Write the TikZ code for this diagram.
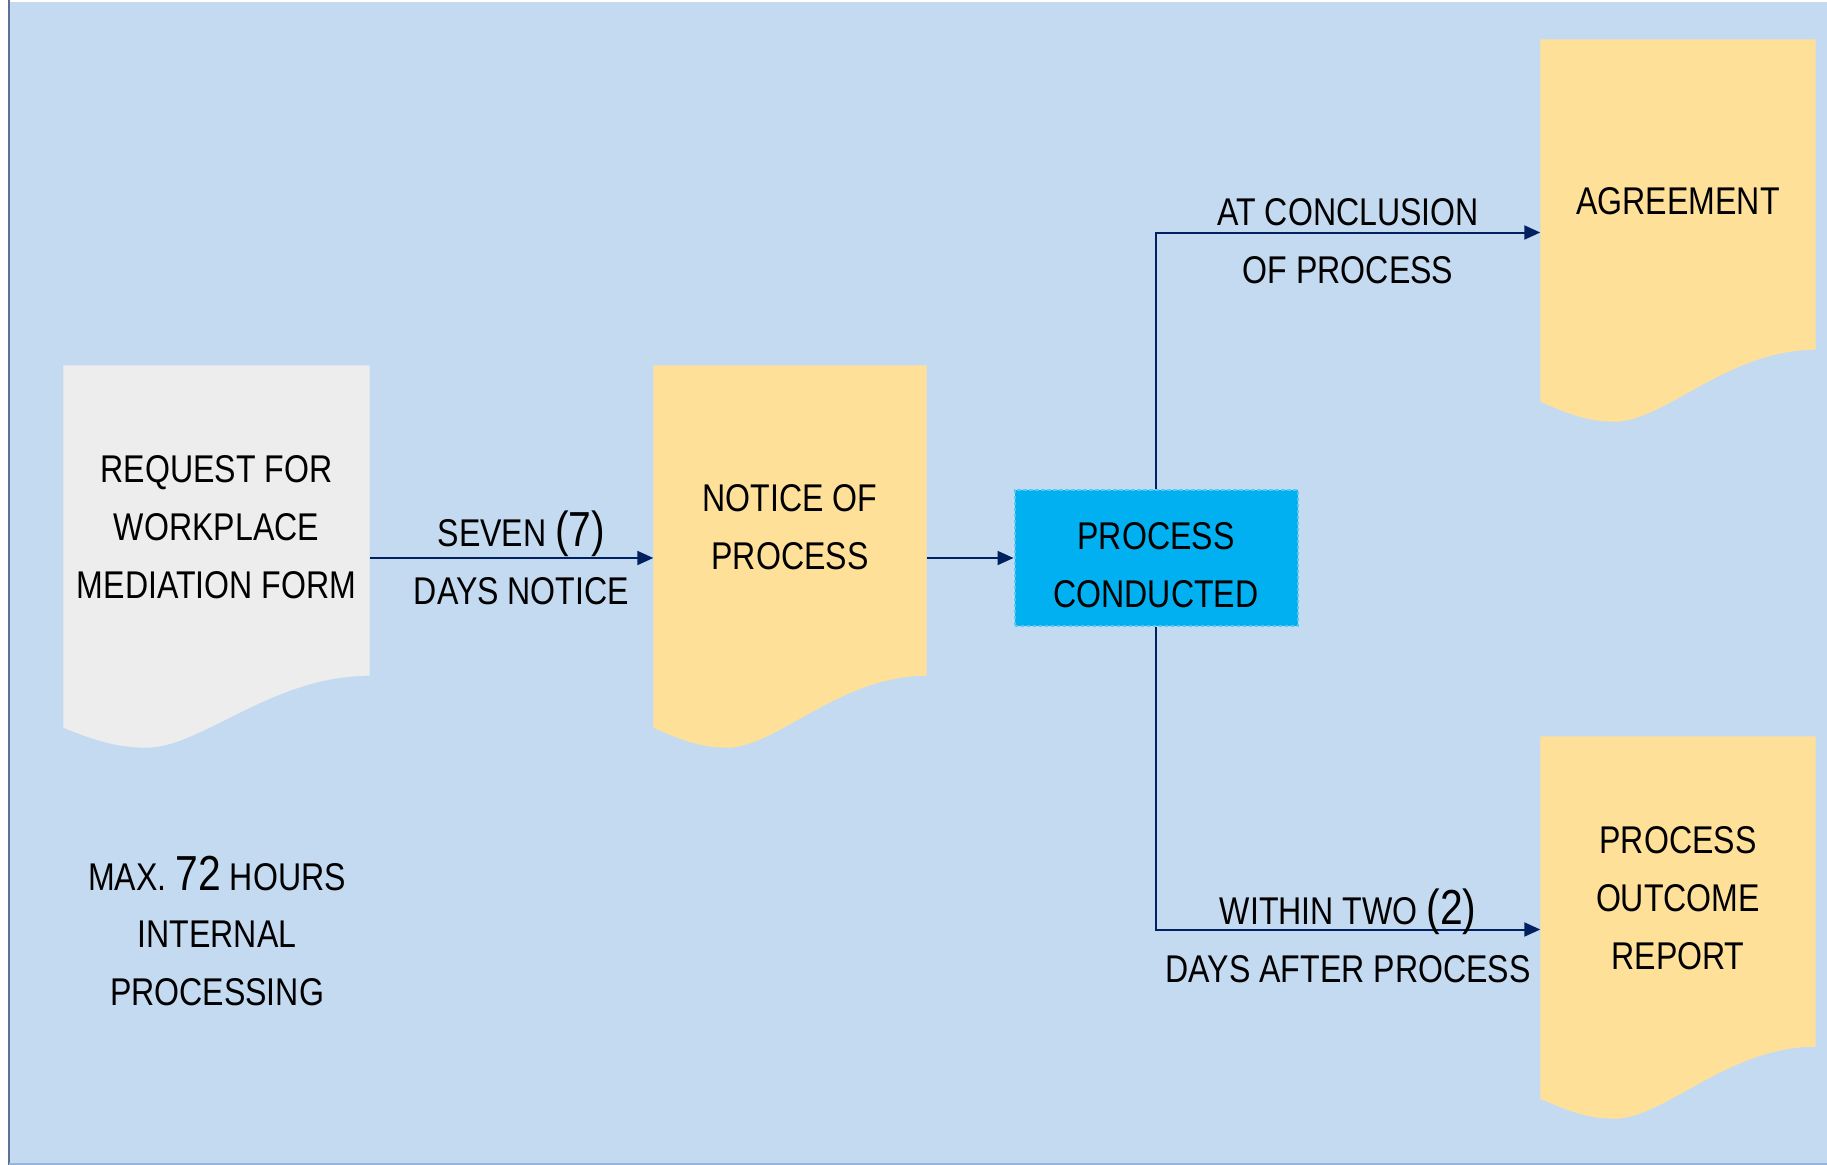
\documentclass[tikz,border=0pt]{standalone}
\usepackage{fontspec}
\setmainfont{Liberation Sans}[FakeStretch=0.83]
\usetikzlibrary{arrows.meta,calc,backgrounds}
\definecolor{pagefill}{RGB}{196,218,241}
\definecolor{paperfill}{RGB}{237,237,237}
\definecolor{notefill}{RGB}{255,224,153}
\definecolor{stepfill}{RGB}{0,176,240}
\definecolor{stepdash}{RGB}{92,198,242}
\definecolor{linenavy}{RGB}{0,32,96}
\definecolor{edgegray}{RGB}{96,110,150}
\definecolor{edgeblue}{RGB}{150,180,220}
\newcommand{\numsize}{\fontsize{14}{16.5}\selectfont}
\newcommand{\dropline}{\rule{0pt}{11.6pt}}
% document outline with the wavy bottom, drawn round a node
\newcommand{\docshape}[2]{%
  \fill[#2] (#1.north west) -- (#1.north east) -- (#1.south east)
    .. controls ($(#1.south west)!0.68!(#1.south east)$) and ($(#1.south west)!0.45!(#1.south east)+(0,72)$)
    .. ($(#1.south west)!0.27!(#1.south east)+(0,72)$)
    .. controls ($(#1.south west)!0.17!(#1.south east)+(0,72)$) and ($(#1.south west)!0.09!(#1.south east)+(0,63)$)
    .. ($(#1.south west)+(0,52)$) -- cycle;}
\tikzset{
  font=\fontsize{11}{16.5}\selectfont,
  >={Triangle[length=1.6mm,width=1.4mm]},
  docnode/.style={
    rectangle,
    align=center,
    inner sep=0pt,
    minimum height=30.9mm
  },
  stepbox/.style={
    rectangle,
    fill=stepfill,
    draw=stepdash,
    line width=0.2mm,
    dash pattern=on 0.35mm off 0.25mm,
    align=center,
    inner sep=0pt,
    minimum width=28.3mm,
    minimum height=13.6mm
  },
  arrow/.style={->,draw=linenavy,line width=0.2mm},
  flowtext/.style={align=center,inner sep=0pt}
}

\begin{document}
\begin{tikzpicture}[x=0.1mm,y=-0.1mm]
  \useasboundingbox (0,0) rectangle (1827,1165);

  \node[docnode,minimum width=30.5mm] at (216.5,520.5) (request) {\dropline REQUEST FOR\\WORKPLACE\\MEDIATION FORM};
  \node[docnode,minimum width=27.2mm] at (790,520.5) (notice) {\dropline NOTICE OF\\PROCESS};
  \node[stepbox] at (1156,558) (conducted) {\dropline PROCESS\\CONDUCTED};
  \node[docnode,minimum width=27.4mm] at (1678,194.5) (agreement) {\dropline AGREEMENT};
  \node[docnode,minimum width=27.4mm] at (1678,891.5) (outcome) {\dropline PROCESS\\OUTCOME\\REPORT};

  \node[flowtext] at (217,931) (limit) {MAX. {\numsize 72} HOURS\\INTERNAL\\PROCESSING};

  \begin{scope}[on background layer]
    \fill[white] (0,0) rectangle (1827,1165);
    \fill[pagefill] (9,2) rectangle (1827,1165);
    \draw[edgegray,line width=0.25mm] (9,0) -- (9,1165);
    \draw[edgeblue,line width=0.2mm] (9,1164) -- (1827,1164);
    \docshape{request}{paperfill}
    \docshape{notice}{notefill}
    \docshape{agreement}{notefill}
    \docshape{outcome}{notefill}
  \end{scope}

  \draw[arrow] (request.east |- conducted) -- node[flowtext,pos=0.535] {SEVEN {\numsize(7)}\\DAYS NOTICE} (notice.west |- conducted);
  \draw[arrow] (notice.east |- conducted) -- (conducted);
  \draw[arrow] (conducted) |- node[flowtext,pos=0.75,yshift=-0.9mm] {AT CONCLUSION\\OF PROCESS} ($(agreement.west)+(0,38)$);
  \draw[arrow] (conducted) |- node[flowtext,pos=0.75,yshift=-0.6mm] {WITHIN TWO {\numsize(2)}\\DAYS AFTER PROCESS} ($(outcome.west)+(0,38)$);

\end{tikzpicture}
\end{document}
